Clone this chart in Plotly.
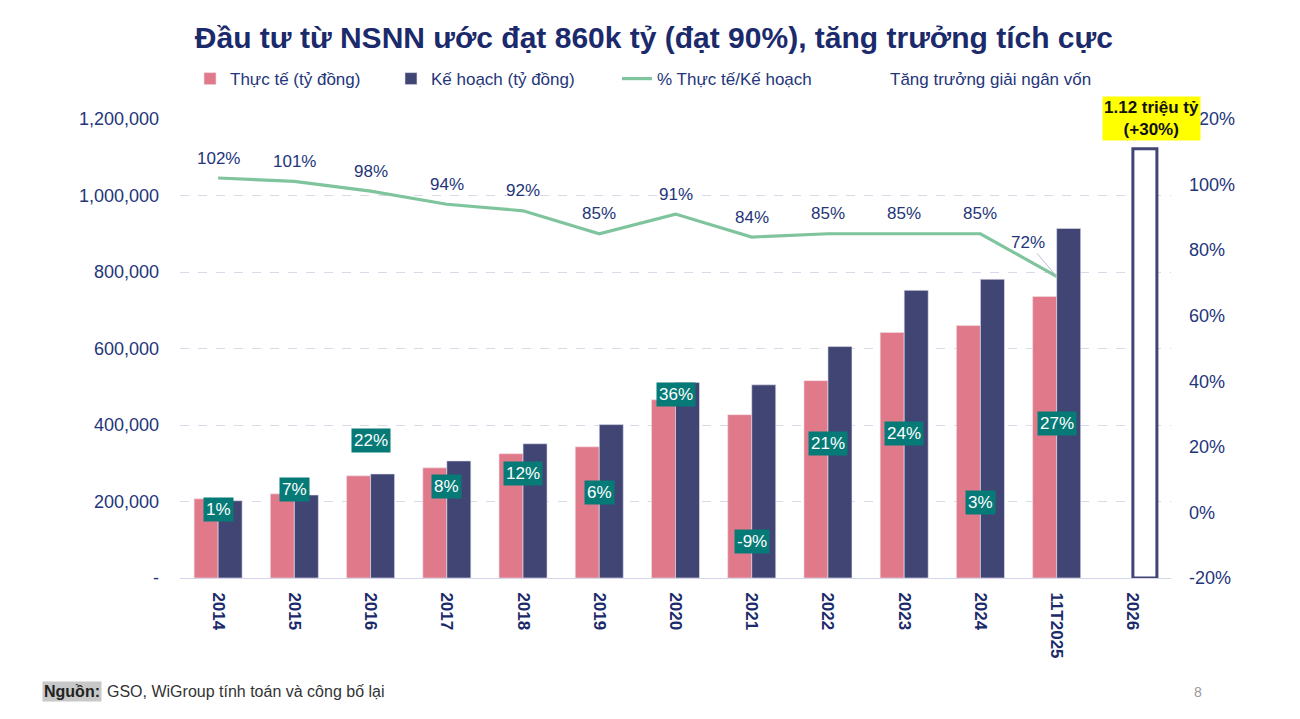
import plotly.graph_objects as go

# ---------------- data ----------------
categories = ["2014", "2015", "2016", "2017", "2018", "2019", "2020",
              "2021", "2022", "2023", "2024", "11T2025", "2026"]
actual_bn = [207000, 220000, 267000, 288000, 325000, 343000, 466000,
             427000, 516000, 642000, 660000, 736000, None]
plan_bn = [202000, 217000, 272000, 306000, 351000, 401000, 511000,
           505000, 605000, 752000, 781000, 914000, 1122000]
ratio_pct = [102, 101, 98, 94, 92, 85, 91, 84, 85, 85, 85, 72]
growth_pct = [1, 7, 22, 8, 12, 6, 36, -9, 21, 24, 3, 27]
forecast_label = "1.12 triệu tỷ<br>(+30%)"

left_tickvals = [0, 200000, 400000, 600000, 800000, 1000000, 1200000]
left_ticktext = ["-", "200,000", "400,000", "600,000", "800,000", "1,000,000", "1,200,000"]
right_tickvals = [-0.2, 0.0, 0.2, 0.4, 0.6, 0.8, 1.0, 1.2]
right_ticktext = ["-20%", "0%", "20%", "40%", "60%", "80%", "100%", "120%"]

title_text = "Đầu tư từ NSNN ước đạt 860k tỷ (đạt 90%), tăng trưởng tích cực"
source_label = "Nguồn:"
source_text = "GSO, WiGroup tính toán và công bố lại"
page_no = "8"

# ---------------- style ----------------
FONT = "Liberation Sans, Arial, sans-serif"
PINK = "#e07a8b"
NAVY = "#404574"
GREEN = "#7fc49d"
TEAL = "#067a77"
TXT = "#24357a"
TITLE = "#1b2a6b"
GRID = "#d9d9ea"

ratio_frac = [v / 100 for v in ratio_pct]
growth_frac = [v / 100 for v in growth_pct]
n = len(categories)
plan_fill = [NAVY] * (n - 1) + ["white"]
plan_line_c = ["#e4e4f0"] * (n - 1) + [NAVY]
plan_line_w = [0.6] * (n - 1) + [3]

fig = go.Figure()
fig.add_trace(go.Bar(
    x=categories, y=actual_bn, name="Thực tế (tỷ đồng)",
    marker=dict(color=PINK, line=dict(color="#f0e0e6", width=0.6)),
    legend="legend", yaxis="y"))
fig.add_trace(go.Bar(
    x=categories, y=plan_bn, name="Kế hoạch (tỷ đồng)",
    marker=dict(color=plan_fill, line=dict(color=plan_line_c, width=plan_line_w)),
    legend="legend2", yaxis="y"))
fig.add_trace(go.Scatter(
    x=categories[:len(ratio_frac)], y=ratio_frac, name="% Thực tế/Kế hoạch",
    mode="lines", line=dict(color=GREEN, width=3.2),
    legend="legend3", yaxis="y2"))
fig.add_trace(go.Scatter(
    x=categories[:len(growth_frac)], y=growth_frac, name="Tăng trưởng giải ngân vốn",
    mode="markers", marker=dict(size=1, color="white", opacity=0),
    hoverinfo="skip", legend="legend4", yaxis="y2"))

annotations = []
# ratio labels (x given as category index so numeric-looking names are not misread)
for i, (v, p) in enumerate(zip(ratio_frac, ratio_pct)):
    if i == len(ratio_frac) - 1:
        annotations.append(dict(
            x=i, y=v, xref="x", yref="y2", text=f"{p}%", showarrow=True,
            arrowhead=0, arrowwidth=1, arrowcolor="#b9b9dd", ax=-29, ay=-34,
            standoff=0, font=dict(family=FONT, size=17, color=TXT)))
    else:
        annotations.append(dict(
            x=i, y=v, xref="x", yref="y2", text=f"{p}%", showarrow=False,
            yshift=20, font=dict(family=FONT, size=17, color=TXT)))
# growth boxes
for i, (v, p) in enumerate(zip(growth_frac, growth_pct)):
    annotations.append(dict(
        x=i, y=v, xref="x", yref="y2", text=f"{p}%", showarrow=False,
        bgcolor=TEAL, borderpad=2, font=dict(family=FONT, size=17, color="white")))
# forecast label
annotations.append(dict(
    x=n - 1, y=plan_bn[-1], xref="x", yref="y", text="<b>" + forecast_label + "</b>",
    showarrow=False, yanchor="bottom", yshift=8, xshift=19, bgcolor="#ffff00",
    borderpad=1, font=dict(family=FONT, size=17, color="#111111")))
# footer
annotations.append(dict(
    x=-0.1393, y=-0.248, xref="paper", yref="paper", xanchor="left", yanchor="middle",
    text="<b>" + source_label + "</b>", showarrow=False, bgcolor="#c8c8c8", borderpad=1,
    font=dict(family=FONT, size=16, color="#222222")))
annotations.append(dict(
    x=-0.0757, y=-0.248, xref="paper", yref="paper", xanchor="left", yanchor="middle",
    text=source_text, showarrow=False,
    font=dict(family=FONT, size=16, color="#333333")))
annotations.append(dict(
    x=1.0272, y=-0.248, xref="paper", yref="paper", xanchor="center", yanchor="middle",
    text=page_no, showarrow=False, font=dict(family=FONT, size=14, color="#9a9a9a")))

leg_common = dict(orientation="h", yanchor="middle", y=1.087, xanchor="left",
                  bgcolor="rgba(0,0,0,0)", font=dict(family=FONT, size=17, color=TXT),
                  itemclick=False, itemdoubleclick=False)

fig.update_layout(
    width=1300, height=719,
    margin=dict(l=180, r=129, t=119, b=141),
    paper_bgcolor="white", plot_bgcolor="white",
    barmode="group", bargap=0.37, bargroupgap=0,
    font=dict(family=FONT, color=TXT),
    title=dict(text="<b>" + title_text + "</b>", x=0.503, xanchor="center",
               y=0.9485, yanchor="middle", font=dict(family=FONT, size=30, color=TITLE)),
    xaxis=dict(type="category", categoryorder="array", categoryarray=categories,
               range=[-0.5, n - 0.5], autorange=False,
               tickangle=90, showline=True, linecolor="#d4d4ea", linewidth=1,
               showgrid=False, ticks="", ticklabelstandoff=10,
               tickfont=dict(family=FONT, size=17, color=TITLE, weight="bold")),
    yaxis=dict(range=[0, 1200000], tickvals=left_tickvals, ticktext=left_ticktext,
               showgrid=True, gridcolor=GRID, griddash="dash", gridwidth=1,
               zeroline=False, ticks="", ticklabelstandoff=20,
               tickfont=dict(family=FONT, size=18, color=TXT)),
    yaxis2=dict(range=[-0.2, 1.2], tickvals=right_tickvals, ticktext=right_ticktext,
                overlaying="y", side="right", showgrid=False, zeroline=False,
                ticks="", ticklabelstandoff=17,
                tickfont=dict(family=FONT, size=18, color=TXT)),
    legend=dict(x=0.0101, **leg_common),
    legend2=dict(x=0.2129, **leg_common),
    legend3=dict(x=0.4410, **leg_common),
    legend4=dict(x=0.6761, **leg_common),
    annotations=annotations,
    showlegend=True,
)

fig.write_html("out.html", config={"displayModeBar": False},
               post_script="document.body.style.margin='0';")
